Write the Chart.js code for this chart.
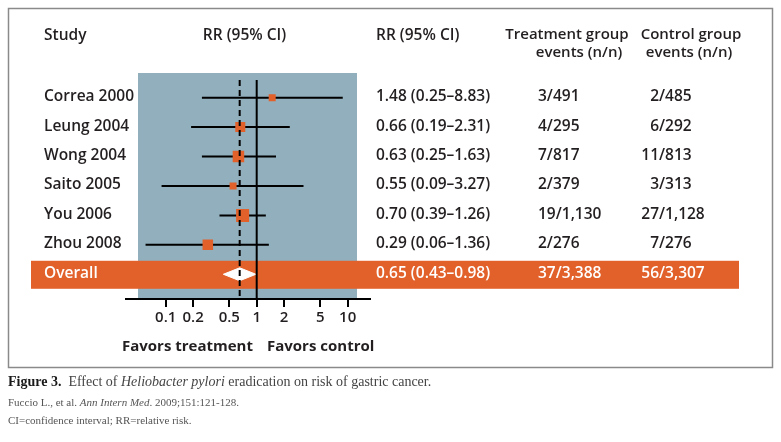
<!DOCTYPE html>
<html>
<head>
<meta charset="utf-8">
<script src="https://cdn.jsdelivr.net/npm/chart.js@4.4.0/dist/chart.umd.min.js"></script>
<style>
  body { margin: 0; background: #fff; }
  #wrap { width: 781px; height: 442px; }
</style>
</head>
<body>
<div id="wrap"><canvas id="forest" width="781" height="442"></canvas></div>
<script>
// Dados dos estudos
const studies = ['Correa 2000', 'Leung 2004', 'Wong 2004', 'Saito 2005', 'You 2006', 'Zhou 2008'];
const rr = [1.48, 0.66, 0.63, 0.55, 0.70, 0.29];
const lower = [0.25, 0.19, 0.25, 0.09, 0.39, 0.06];
const upper = [8.83, 2.31, 1.63, 3.27, 1.26, 1.36];
const treatEvents = ['3/491', '4/295', '7/817', '2/379', '19/1,130', '2/276'];
const controlEvents = ['2/485', '6/292', '11/813', '3/313', '27/1,128', '7/276'];
const boxSide = [7, 10, 11.5, 7, 13, 10.5];   // peso do estudo (lado do quadrado)

const overallLabel = 'Overall';
const overallRR = 0.65;
const overallLower = 0.43;
const overallUpper = 0.98;
const overallTreat = '37/3,388';
const overallControl = '56/3,307';

const xTicks = [0.1, 0.2, 0.5, 1, 2, 5, 10];

const TEXT = '#231f20';
const ORANGE = '#e2612a';
const BLUE = '#91afbc';
const FONT = '"Open Sans", "Noto Sans", sans-serif';
const SERIF = '"Liberation Serif", "DejaVu Serif", serif';

const overallRow = studies.length;
const fmt = (a, b, c) => `${a.toFixed(2)} (${b.toFixed(2)}–${c.toFixed(2)})`;

// linhas dos intervalos de confiança
const ciSets = studies.map((s, i) => ({
    type: 'line',
    data: [{ x: lower[i], y: i }, { x: upper[i], y: i }],
    borderColor: '#000', borderWidth: 2, pointRadius: 0
}));

const datasets = [
    { // linha tracejada no efeito global
        type: 'line',
        data: [{ x: overallRR, y: -0.6 }, { x: overallRR, y: 6.84 }],
        borderColor: '#000', borderWidth: 2, borderDash: [6, 4], pointRadius: 0
    },
    { // linha de nenhum efeito
        type: 'line',
        data: [{ x: 1, y: -0.6 }, { x: 1, y: 6.84 }],
        borderColor: '#000', borderWidth: 2, pointRadius: 0
    },
    { // losango do resultado global
        type: 'line',
        data: [
            { x: overallLower, y: overallRow },
            { x: overallRR, y: overallRow - 0.22 },
            { x: overallUpper, y: overallRow },
            { x: overallRR, y: overallRow + 0.22 },
            { x: overallLower, y: overallRow }
        ],
        borderColor: '#fff', backgroundColor: '#fff', borderWidth: 1,
        fill: 'shape', pointRadius: 0, tension: 0
    },
    { // quadrados
        type: 'scatter',
        data: rr.map((v, i) => ({ x: v, y: i })),
        pointStyle: 'rect',
        pointRadius: boxSide.map(s => s / (2 * Math.SQRT1_2)),
        backgroundColor: ORANGE, borderWidth: 0
    },
    ...ciSets
];

function txt(ctx, s, x, y, opt) {
    ctx.font = opt.font;
    ctx.fillStyle = opt.color || TEXT;
    ctx.textAlign = opt.align || 'left';
    ctx.textBaseline = 'middle';
    ctx.fillText(s, x, y);
}

const decor = {
    id: 'decor',
    beforeDraw(chart) {
        const ctx = chart.ctx;
        const y = chart.scales.y;
        ctx.save();
        ctx.fillStyle = '#fff';
        ctx.fillRect(0, 0, chart.width, chart.height);
        ctx.strokeStyle = '#8a8a8a';
        ctx.lineWidth = 1.5;
        ctx.strokeRect(8.5, 8.5, 764, 359);
        ctx.fillStyle = BLUE;
        ctx.fillRect(138, 73, 219, chart.chartArea.bottom - 73);
        const yo = y.getPixelForValue(overallRow);
        ctx.fillStyle = ORANGE;
        ctx.fillRect(31, yo - 13.5, 708, 28);
        ctx.restore();
    },
    afterDraw(chart) {
        const ctx = chart.ctx;
        const y = chart.scales.y;
        const h = '600 15px ' + FONT;
        const b = '600 15.5px ' + FONT;
        ctx.save();
        // cabeçalhos
        txt(ctx, 'Study', 44, 36, { font: b });
        txt(ctx, 'RR (95% CI)', 244.5, 36, { font: b, align: 'center' });
        txt(ctx, 'RR (95% CI)', 376, 36, { font: b });
        txt(ctx, 'Treatment group', 567, 35, { font: h, align: 'center' });
        txt(ctx, 'events (n/n)', 579, 53, { font: h, align: 'center' });
        txt(ctx, 'Control group', 691, 35, { font: h, align: 'center' });
        txt(ctx, 'events (n/n)', 689, 53, { font: h, align: 'center' });

        const rowText = (i, label, r, lo, hi, tr, co, color) => {
            const yy = y.getPixelForValue(i) - 1;
            txt(ctx, label, 44, yy, { font: b, color });
            txt(ctx, fmt(r, lo, hi), 376, yy, { font: b, color });
            txt(ctx, tr, 538, yy, { font: b, color });
            const [num, den] = co.split('/');
            txt(ctx, num, 659, yy, { font: b, color, align: 'right' });
            txt(ctx, '/' + den, 659, yy, { font: b, color });
        };
        studies.forEach((s, i) => rowText(i, s, rr[i], lower[i], upper[i], treatEvents[i], controlEvents[i]));
        rowText(overallRow, overallLabel, overallRR, overallLower, overallUpper, overallTreat, overallControl, '#fff');

        txt(ctx, 'Favors treatment', 122, 347, { font: '700 15px ' + FONT });
        txt(ctx, 'Favors control', 267, 347, { font: '700 15px ' + FONT });

        // legenda da figura
        let x = 8;
        const cap = [
            ['Figure 3.', '700 14px ' + SERIF, '#1a1a1a'],
            ['  Effect of ', '14px ' + SERIF, '#444'],
            ['Heliobacter pylori', 'italic 14px ' + SERIF, '#444'],
            [' eradication on risk of gastric cancer.', '14px ' + SERIF, '#444']
        ];
        cap.forEach(([s, f, c]) => {
            txt(ctx, s, x, 382, { font: f, color: c });
            x += ctx.measureText(s).width;
        });
        x = 8;
        [['Fuccio L., et al. ', '11px ' + SERIF], ['Ann Intern Med', 'italic 11px ' + SERIF], ['. 2009;151:121-128.', '11px ' + SERIF]]
            .forEach(([s, f]) => {
                txt(ctx, s, x, 403, { font: f, color: '#555' });
                x += ctx.measureText(s).width;
            });
        txt(ctx, 'CI=confidence interval; RR=relative risk.', 8, 421, { font: '11px ' + SERIF, color: '#555' });
        ctx.restore();
    }
};

document.addEventListener('DOMContentLoaded', () => {
    new Chart(document.getElementById('forest'), {
        type: 'scatter',
        data: { datasets },
        options: {
            responsive: false,
            animation: false,
            layout: { padding: { left: 125.7, right: 411, top: 73, bottom: 113 } },
            plugins: { legend: { display: false }, tooltip: { enabled: false } },
            scales: {
                x: {
                    type: 'logarithmic',
                    min: 0.0363,
                    max: 17.6,
                    afterBuildTicks: s => { s.ticks = xTicks.map(v => ({ value: v })); },
                    afterFit: s => { s.height = 30; },
                    ticks: {
                        autoSkip: false, maxRotation: 0, padding: 2,
                        color: TEXT, font: { family: FONT, size: 15, weight: '600' },
                        callback: v => String(v)
                    },
                    grid: { drawOnChartArea: false, drawTicks: true, tickLength: 8, color: '#000', lineWidth: 2 },
                    border: { display: true, color: '#000', width: 2 }
                },
                y: { type: 'linear', reverse: true, min: -0.839, max: 6.84, display: false }
            }
        },
        plugins: [decor]
    });
});
</script>
</body>
</html>
